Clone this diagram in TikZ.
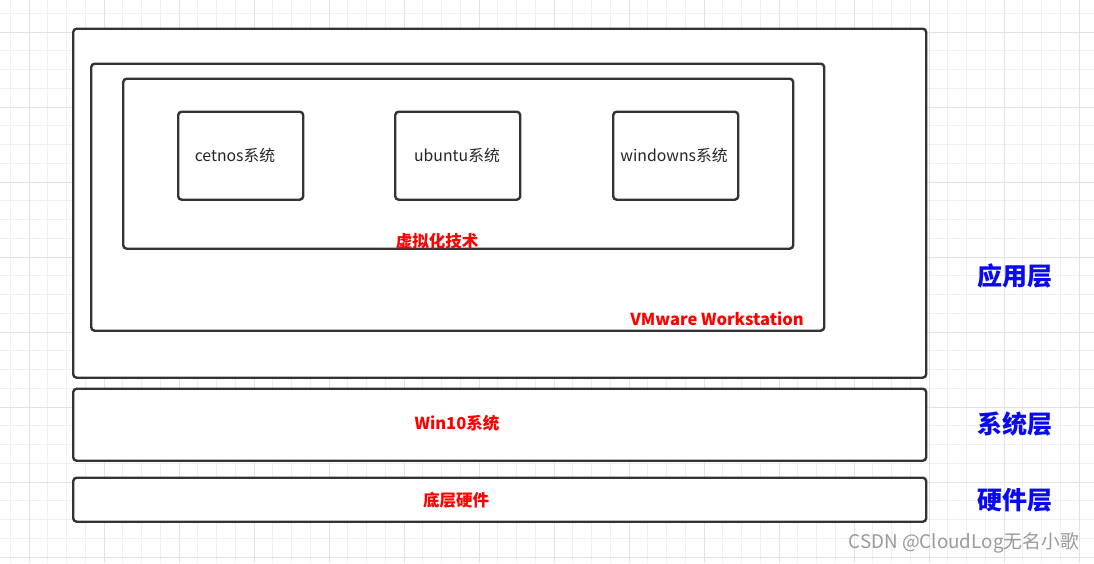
\documentclass[tikz,border=0pt]{standalone}
\usepackage{fontspec}
\setmainfont{Noto Sans CJK SC}
\newfontfamily\cjk{Noto Sans CJK SC}
\definecolor{boxc}{HTML}{333333}
\definecolor{redc}{HTML}{FF0000}
\definecolor{bluec}{HTML}{0A0AF0}
\definecolor{gridminor}{HTML}{EFEFEF}
\definecolor{gridmajor}{HTML}{E2E2E2}
\definecolor{wmc}{HTML}{9A9A9A}
\begin{document}
\begin{tikzpicture}[x=1pt,y=-1pt,
  box/.style={draw=boxc, line width=2.4pt, rounded corners=3.5pt, fill=white, anchor=north west, inner sep=0pt},
  systext/.style={font=\cjk\fontsize{15.8}{18}\selectfont, text=black!85},
  redlab/.style={font=\cjk\bfseries\fontsize{16.5}{19}\selectfont, text=redc, inner sep=0pt},
  layerlab/.style={font=\cjk\bfseries\fontsize{25}{28}\selectfont, text=bluec, inner sep=0pt},
  wm/.style={font=\cjk\fontsize{18.8}{21}\selectfont, text=wmc, inner sep=0pt}]
\useasboundingbox (0,0) rectangle (1094,563);
\fill[white] (0,0) rectangle (1094,563);
% grid
\foreach \i in {0,...,58} {
  \pgfmathsetmacro{\gx}{10.25+18.75*\i}
  \draw[gridminor, line width=1pt] (\gx,0) -- (\gx,563);
}
\foreach \i in {0,...,30} {
  \pgfmathsetmacro{\gy}{13.25+18.75*\i}
  \draw[gridminor, line width=1pt] (0,\gy) -- (1094,\gy);
}
\foreach \i in {0,...,14} {
  \pgfmathsetmacro{\gx}{29+75*\i}
  \draw[gridmajor, line width=1pt] (\gx,0) -- (\gx,563);
}
\foreach \i in {0,...,7} {
  \pgfmathsetmacro{\gy}{32+75*\i}
  \draw[gridmajor, line width=1pt] (0,\gy) -- (1094,\gy);
}
% boxes
\node[box, minimum width=853pt, minimum height=349pt] (app) at (72,27.5) {};
\node[box, minimum width=733pt, minimum height=267pt] (vmw) at (90,62.5) {};
\node[box, minimum width=670pt, minimum height=170pt] (virt) at (122,77.5) {};
\node[box, minimum width=125pt, minimum height=88pt] (centos) at (177,110.5) {};
\node[box, minimum width=125pt, minimum height=88pt] (ubuntu) at (394,110.5) {};
\node[box, minimum width=125pt, minimum height=88pt] (windows) at (612,110.5) {};
\node[box, minimum width=853pt, minimum height=72pt] (win10) at (72,387.5) {};
\node[box, minimum width=853pt, minimum height=44pt] (hw) at (72,476.5) {};
% texts
\node[systext] (centosT) at (235,155) {cetnos系统};
\node[systext] (ubuntuT) at (457,155) {ubuntu系统};
\node[systext] (windowsT) at (674,155) {windowns系统};
\node[redlab] (virtT) at (437,241) {虚拟化技术};
\node[redlab, anchor=east] (vmwT) at (804,319) {VMware Workstation};
\node[redlab] (win10T) at (457,423) {Win10系统};
\node[redlab] (hwT) at (456,500) {底层硬件};
\node[layerlab] (appL) at (1015,276) {应用层};
\node[layerlab] (sysL) at (1015,424) {系统层};
\node[layerlab] (hwL) at (1015,500) {硬件层};
\node[wm, anchor=east] (wmT) at (1079,543) {CSDN @CloudLog无名小歌};
\end{tikzpicture}
\end{document}
